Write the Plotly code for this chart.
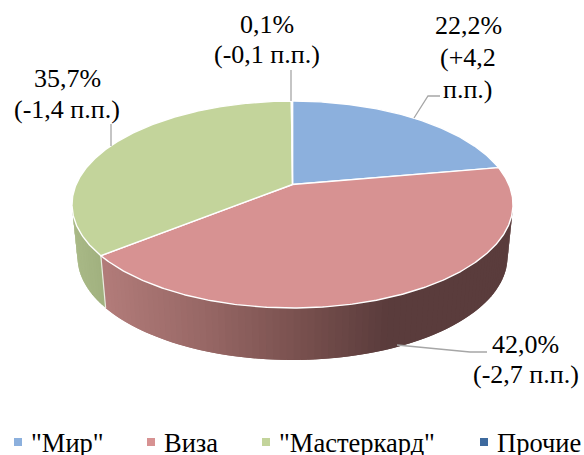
import math
import plotly.graph_objects as go

categories = ['"Мир"', "Виза", '"Мастеркард"', "Прочие"]
shares = [22.2, 42.0, 35.7, 0.1]
changes = ["+4,2", "-2,7", "-1,4", "-0,1"]
top_colors = ["#8cb0dd", "#d79292", "#c3d49b", "#3e6a9e"]

W, H = 584, 455
FONT = "Liberation Serif"
FS = 26
FS_LEG = 26.5
CX, CY, RX, RY = 292.5, 204.5, 220.5, 103.5
BX, BY, BRX, BRY = 292.5, 257.0, 215.0, 103.0
TILT = 0.193


def persp(theta):
    t = math.radians(theta)
    u, v = math.sin(t), math.cos(t)
    d = 1 + TILT * v
    return u * math.sqrt(1 - TILT ** 2) / d, (v + TILT) / d


def top(theta):
    u, v = persp(theta)
    return CX + RX * u, CY - RY * v


def bottom(theta):
    u, v = persp(theta)
    return BX + BRX * u, BY - BRY * v


def lerp(stops, x):
    if x <= stops[0][0]:
        return stops[0][1]
    for (x0, c0), (x1, c1) in zip(stops, stops[1:]):
        if x <= x1:
            f = (x - x0) / (x1 - x0)
            return tuple(a + (b - a) * f for a, b in zip(c0, c1))
    return stops[-1][1]


fig = go.Figure()
edges = [0]
for s in shares:
    edges.append(edges[-1] + s * 3.6)
tangent_r = math.degrees(math.acos(-TILT))
tangent_l = 360 - tangent_r
red_stops = [(104, (178, 124, 122)), (200, (152, 104, 102)), (300, (120, 80, 78)),
             (385, (90, 60, 60)), (520, (90, 60, 60))]
green_stops = [(72, (170, 186, 136)), (106, (160, 176, 126))]


def wall(a, b, stops):
    # painted in order, every strip overlapping the next so no seams show
    step = 1.5
    n = max(2, int((b - a) / step))
    for i in range(n):
        t0 = a + (b - a) * i / n
        t1 = min(b, a + (b - a) * (i + 2) / n)
        p = [top(t0), top(t1), bottom(t1), bottom(t0)]
        xs = [q[0] for q in p] + [p[0][0]]
        ys = [q[1] for q in p] + [p[0][1]]
        c = lerp(stops, sum(xs[:4]) / 4)
        col = "rgb(%d,%d,%d)" % c
        fig.add_trace(go.Scatter(x=xs, y=ys, mode="lines", fill="toself", fillcolor=col,
                                 line=dict(width=0), hoverinfo="skip", showlegend=False))


wall(tangent_r, edges[2], red_stops)
wall(edges[2], tangent_l, green_stops)
fig.add_trace(go.Scatter(x=[top(edges[2])[0], bottom(edges[2])[0]], y=[top(edges[2])[1], bottom(edges[2])[1]],
                         mode="lines", line=dict(color="#e8ece0", width=1.2), hoverinfo="skip", showlegend=False))

apex = (CX, CY - RY * TILT)
for i, name in enumerate(categories):
    a, b = edges[i], edges[i + 1]
    n = max(2, int((b - a) / 0.5))
    pts = [top(a + (b - a) * k / n) for k in range(n + 1)]
    xs = [apex[0]] + [p[0] for p in pts] + [apex[0]]
    ys = [apex[1]] + [p[1] for p in pts] + [apex[1]]
    fig.add_trace(go.Scatter(x=xs, y=ys, mode="lines", fill="toself", fillcolor=top_colors[i],
                             line=dict(color="white", width=1.4), name=name, hoverinfo="name", showlegend=False))

leaders = [
    ([440, 428, 414], [96, 96, 118]),
    ([487, 470, 397], [352, 352, 345]),
    ([111, 111], [124, 146]),
    ([291, 291], [70, 101]),
]
for lx, ly in leaders:
    fig.add_trace(go.Scatter(x=lx, y=ly, mode="lines", line=dict(color="#a6a6a6", width=1.3),
                             hoverinfo="skip", showlegend=False))

label_x = [468, 525.5, 67, 267]
label_rows = [[25, 57, 89], [344, 374], [78, 109], [24, 54]]
for i in range(4):
    val = f"{shares[i]:.1f}".replace(".", ",") + "%"
    if i == 0:
        lines = [val, f"({changes[i]}", "п.п.)"]
    else:
        lines = [val, f"({changes[i]} п.п.)"]
    for line, y in zip(lines, label_rows[i]):
        fig.add_annotation(x=label_x[i], y=y, text=line, showarrow=False,
                           font=dict(family=FONT, size=FS, color="black"),
                           xanchor="center", yanchor="middle")

legend_x = [18, 151, 266, 484]
legend_y = 442
for i, name in enumerate(categories):
    fig.add_trace(go.Scatter(x=[legend_x[i]], y=[legend_y], mode="markers",
                             marker=dict(symbol="square", size=8, color=top_colors[i]),
                             hoverinfo="skip", showlegend=False))
    fig.add_annotation(x=legend_x[i] + 13, y=legend_y + 1, text=name, showarrow=False,
                       font=dict(family=FONT, size=FS_LEG, color="black"), xanchor="left", yanchor="middle",
                       xshift=-2)

fig.update_layout(
    width=W, height=H, margin=dict(l=0, r=0, t=0, b=0), paper_bgcolor="white", plot_bgcolor="white",
    showlegend=False,
    xaxis=dict(range=[0, W], visible=False, fixedrange=True),
    yaxis=dict(range=[H, 0], visible=False, fixedrange=True),
)
fig.write_html("out.html", config={"displayModeBar": False},
               post_script="document.body.style.margin='0';document.body.style.overflow='hidden';")
